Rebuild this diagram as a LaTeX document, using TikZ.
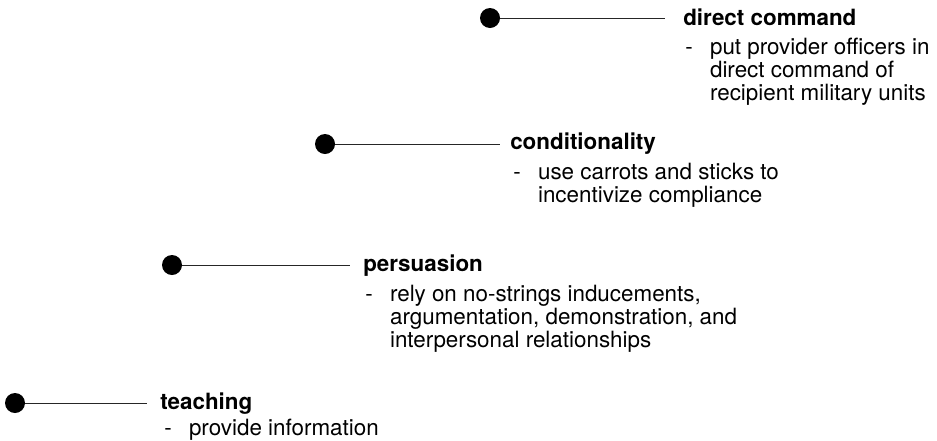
\documentclass[tikz,border=0pt]{standalone}
\usepackage{fontspec}
\setmainfont{TeX Gyre Heros}
\usetikzlibrary{positioning}

\begin{document}
\begin{tikzpicture}[x=0.75pt,y=-0.75pt,
    dot/.style={fill,circle,inner sep=0pt,minimum size=15pt},
    stem/.style={line width=0.7pt,black!85},
    mode/.style={anchor=base west,inner sep=0pt,font=\bfseries\fontsize{16.8}{17.4}\selectfont},
    detail/.style={anchor=base west,inner sep=0pt,font=\fontsize{16.8}{17.4}\selectfont}]
      \useasboundingbox (0,0) rectangle (937,440);

      \coordinate (t) at (15,403);
      \coordinate (p) at (172,265);
      \coordinate (c) at (325,144);
      \coordinate (d) at (490,18);

      \coordinate (tend) at (147,403);
      \coordinate (pend) at (350,265);
      \coordinate (cend) at (500,144);
      \coordinate (dend) at (665,18);

      \node[dot] (tn) at (t) {};
      \node[dot] (pn) at (p) {};
      \node[dot] (cn) at (c) {};
      \node[dot] (dn) at (d) {};

      \draw[stem] (tn) -- (tend);
      \draw[stem] (pn) -- (pend);
      \draw[stem] (cn) -- (cend);
      \draw[stem] (dn) -- (dend);

      \node[mode] (tmode) at (160,409) {teaching};
      \node[mode] (pmode) at (363,271) {persuasion};
      \node[mode] (cmode) at (510,149) {conditionality};
      \node[mode] (dmode) at (683,25) {direct command};

      \node[detail] (tdetail) at (164,435) {\begin{tabular}[t]{@{}l@{\hspace{13pt}}l@{}}
        - & provide information\end{tabular}};
      \node[detail] (pdetail) at (365,301) {\begin{tabular}[t]{@{}l@{\hspace{13pt}}l@{}}
        - & rely on no-strings inducements,\\
          & argumentation, demonstration, and\\
          & interpersonal relationships\end{tabular}};
      \node[detail] (cdetail) at (513,179) {\begin{tabular}[t]{@{}l@{\hspace{13pt}}l@{}}
        - & use carrots and sticks to\\
          & incentivize compliance\end{tabular}};
      \node[detail] (ddetail) at (685,54) {\begin{tabular}[t]{@{}l@{\hspace{13pt}}l@{}}
        - & put provider officers in\\
          & direct command of\\
          & recipient military units\end{tabular}};
    \end{tikzpicture}
\end{document}
